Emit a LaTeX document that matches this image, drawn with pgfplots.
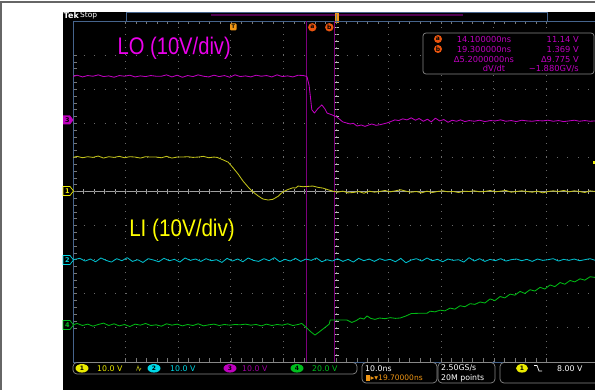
\documentclass[border=0pt]{standalone}
\usepackage{pgfplots}
\pgfplotsset{compat=1.18}
\usepackage{graphicx}
\usepackage{fontspec}
\setmainfont{DejaVu Sans}
\newfontfamily\arial{Liberation Sans}
\newcommand\fs[1]{\fontsize{#1}{#1}\selectfont}
\definecolor{frameblue}{RGB}{70,100,140}
\definecolor{gridgray}{RGB}{105,105,105}
\definecolor{tickgray}{RGB}{120,120,120}
\definecolor{centergray}{RGB}{160,160,160}
\definecolor{ytrace}{RGB}{195,195,25}
\definecolor{mtrace}{RGB}{190,0,190}
\definecolor{ctrace}{RGB}{0,190,205}
\definecolor{gtrace}{RGB}{0,185,20}
\definecolor{cursor}{RGB}{125,0,125}
\definecolor{meas}{RGB}{190,0,190}
\definecolor{curorange}{RGB}{235,85,15}
\definecolor{trigorange}{RGB}{240,150,20}
\definecolor{boxgray}{RGB}{135,135,135}
\definecolor{lomag}{RGB}{235,0,235}
\definecolor{liyel}{RGB}{255,255,0}
\definecolor{chyel}{RGB}{235,235,0}
\definecolor{chcyan}{RGB}{0,215,230}
\definecolor{chmag}{RGB}{190,0,190}
\definecolor{chgreen}{RGB}{0,190,30}
\definecolor{darkpurple}{RGB}{80,0,80}
\begin{document}
\begin{tikzpicture}[x=1pt,y=1pt]
\useasboundingbox (0,0) rectangle (595,390);
\clip (0,0) rectangle (595,390);
\fill[white] (0,0) rectangle (595,390);
\draw[black!60, line width=1.2pt] (0,388) -- (595,388);
\draw[black!60, line width=1.2pt] (1,0) -- (1,388);
\fill[black] (63,0) rectangle (595,378);
% top bar
\node[anchor=west, text=white, font=\fs{8}\bfseries, inner sep=0] at (63.5,374) {Tek};
\node[anchor=west, text=white, font=\fs{7.5}, inner sep=0] at (80,374) {Stop};
\draw[frameblue, line width=0.8pt] (126,369) -- (126,378) -- (547,378) -- (547,369);
\draw[darkpurple, line width=2pt] (211,375) -- (463,375);
\fill[trigorange] (334.5,367) rectangle (338.5,377);
\draw[black!50, line width=0.6pt] (336.5,368) -- (336.5,376);
% center cross
\draw[centergray, line width=0.7pt] (73,198.5) -- (599,198.5);
\foreach \i in {1,...,49} \draw[centergray, line width=0.6pt] ({73+\i*10.52},196.3) -- ++(0,4.4);
\foreach \i in {1,...,49} \draw[white!75!black, line width=0.7pt] (333.8,{28+\i*6.82}) -- ++(5,0);
\begin{axis}[
  at={(73pt,28pt)}, anchor=south west,
  width=526pt, height=341pt, scale only axis,
  xmin=-30.3, xmax=69.7, ymin=-5, ymax=5,
  axis line style={frameblue, line width=0.8pt},
  xtick={-20.3,-10.3,-0.3,9.7,19.7,29.7,39.7,49.7,59.7},
  ytick={-4,-3,-2,-1,0,1,2,3,4},
  xticklabels={}, yticklabels={},
  minor x tick num=4, minor y tick num=4,
  tick align=inside,
  major tick length=3.5pt, minor tick length=3.5pt,
  tick style={draw=tickgray, line width=0.6pt},
  grid=major,
  x grid style={gridgray, line width=1pt, dash pattern=on 1pt off 5.82pt},
  y grid style={gridgray, line width=1pt, dash pattern=on 1pt off 9.52pt},
  every axis plot/.append style={line width=0.85pt, line join=round, mark=none},
]
\addplot[cursor, line width=0.7pt] coordinates {(14.1,-5) (14.1,5)};
\addplot[cursor, line width=0.7pt] coordinates {(19.3,-5) (19.3,5)};
% CH2 cyan
\addplot[ctrace] coordinates {
(-30.3,-2.00)(-29,-1.96)(-28,-2.04)(-27,-1.98)(-26,-2.06)(-25,-1.95)(-24,-2.02)(-23,-2.07)(-22,-1.97)(-21,-2.03)
(-20,-1.94)(-19,-2.05)(-18,-2.00)(-17,-2.08)(-16,-1.97)(-15,-2.01)(-14,-2.06)(-13,-1.96)(-12,-2.03)(-11,-1.99)
(-10,-2.07)(-9,-1.95)(-8,-2.02)(-7,-1.98)(-6,-2.05)(-5,-1.97)(-4,-2.03)(-3,-2.00)(-2,-2.08)(-1,-1.96)
(0,-2.04)(1,-1.98)(2,-2.06)(3,-1.95)(4,-2.02)(5,-2.05)(6,-1.97)(7,-2.03)(8,-1.94)(9,-2.06)
(10,-1.99)(11,-2.04)(12,-1.96)(13,-2.05)(14,-1.98)(15,-2.02)(16,-1.95)(17,-2.06)(18,-2.00)(19,-2.04)
(20,-1.97)(21,-2.05)(22,-1.99)(23,-2.07)(24,-1.96)(25,-2.03)(26,-1.98)(27,-2.05)(28,-1.97)(29,-2.02)
(30,-1.99)(31,-2.06)(32,-1.96)(33,-2.09)(34,-2.01)(35,-1.97)(36,-2.04)(37,-1.95)(38,-2.03)(39,-1.99)
(40,-2.06)(41,-1.98)(42,-2.02)(43,-2.00)(44,-2.07)(45,-1.94)(46,-2.04)(47,-1.97)(48,-2.05)(49,-1.99)
(50,-2.03)(51,-1.97)(52,-2.04)(53,-2.00)(54,-1.98)(55,-2.03)(56,-1.99)(57,-2.05)(58,-1.98)(59,-2.02)
(60,-2.00)(61,-1.97)(62,-2.04)(63,-1.99)(64,-2.02)(65,-1.98)(66,-2.03)(67,-2.00)(68,-1.97)(69,-2.02)(69.7,-2.00)};
% CH4 green
\addplot[gtrace] coordinates {
(-30.3,-3.91)(-29.5,-3.87)(-28.5,-3.93)(-27.5,-3.89)(-26.5,-3.95)(-25.5,-3.90)(-24.5,-3.86)(-23.5,-3.93)(-22.5,-3.88)(-21.5,-3.94)
(-20.5,-3.90)(-19.5,-3.96)(-18.5,-3.89)(-17.5,-3.92)(-16.5,-3.87)(-15.5,-3.93)(-14.5,-3.91)(-13.5,-3.95)(-12.5,-3.88)(-11.5,-3.92)
(-10.5,-3.89)(-9.5,-3.94)(-8.5,-3.90)(-7.5,-3.93)(-6.5,-3.88)(-5.5,-3.94)(-4.5,-3.91)(-3.5,-3.89)(-2.5,-3.93)(-1.5,-3.90)
(-0.5,-3.92)(0.5,-3.90)(1.5,-3.91)(2.5,-3.89)(3.5,-3.92)(4.5,-3.90)(5.5,-3.94)(6.5,-3.89)(7.5,-3.93)(8.5,-3.90)
(9.5,-3.92)(10.5,-3.88)(11.5,-3.93)(12.5,-3.90)(13.2,-3.87)(14.0,-3.98)(14.8,-4.10)(15.7,-4.21)(16.5,-4.12)(17.5,-4.00)
(18.4,-3.89)(18.6,-3.77)(20.0,-3.77)(21.8,-3.77)(22.7,-3.84)(23.5,-3.79)(24.3,-3.71)(25.0,-3.74)(25.6,-3.65)(26.3,-3.72)
(27.1,-3.75)(28.0,-3.71)(29.0,-3.73)(30.0,-3.70)(31.0,-3.72)(31.9,-3.71)(33.0,-3.65)(34.0,-3.58)(35.7,-3.57)(37.0,-3.57)
(37.6,-3.51)(38.5,-3.53)(39.5,-3.48)(40.4,-3.50)(41.4,-3.42)(42.3,-3.45)(43.3,-3.35)(44.2,-3.38)(45.2,-3.29)(46.1,-3.31)
(47.1,-3.24)(48.0,-3.27)(49.0,-3.15)(49.9,-3.20)(50.9,-3.08)(51.8,-3.12)(52.8,-3.01)(53.7,-3.04)(54.7,-2.93)(55.6,-2.99)
(56.6,-2.88)(57.5,-2.92)(58.5,-2.81)(59.4,-2.86)(60.4,-2.74)(61.3,-2.79)(62.3,-2.67)(63.2,-2.72)(64.2,-2.61)(65.1,-2.65)
(66.1,-2.56)(67.0,-2.60)(68.0,-2.50)(69.0,-2.52)(69.7,-2.47)};
% CH3 magenta
\addplot[mtrace] coordinates {
(-30.3,3.37)(-29.5,3.41)(-28.5,3.36)(-27.5,3.40)(-26.5,3.38)(-25.5,3.42)(-24.5,3.37)(-23.5,3.39)(-22.5,3.35)(-21.5,3.40)
(-20.5,3.38)(-19.5,3.41)(-18.5,3.36)(-17.5,3.39)(-16.5,3.37)(-15.5,3.40)(-14.5,3.38)(-13.5,3.38)(-12.5,3.42)(-11.5,3.36)
(-10.5,3.41)(-9.5,3.35)(-8.5,3.40)(-7.5,3.37)(-6.5,3.42)(-5.5,3.38)(-4.5,3.36)(-3.5,3.41)(-2.5,3.37)(-1.5,3.40)
(-0.5,3.35)(0.5,3.42)(1.5,3.37)(2.5,3.39)(3.5,3.36)(4.5,3.41)(5.5,3.38)(6.5,3.40)(7.5,3.36)(8.5,3.42)
(9.5,3.37)(10.5,3.39)(11.5,3.36)(12.5,3.41)(13.5,3.40)(14.0,3.38)(14.2,3.36)(14.6,3.10)(15.1,2.40)(15.6,2.30)
(16.2,2.42)(17.0,2.54)(17.6,2.42)(18.0,2.30)(18.9,2.25)(19.9,2.18)(21.0,2.04)(22.4,1.98)(23.0,2.00)(23.7,1.92)
(24.5,1.95)(25.2,1.91)(26.5,1.98)(27.3,1.94)(28.1,1.96)(29.4,2.01)(30.1,2.05)(30.9,2.10)(31.6,2.08)(32.4,2.13)
(33.2,2.10)(34.0,2.16)(34.8,2.09)(35.5,2.14)(36.3,2.06)(37.1,2.12)(37.8,2.04)(38.6,2.15)(39.4,2.07)(40.2,2.11)
(41.0,2.03)(41.8,2.09)(42.6,2.06)(43.4,2.10)(44.2,2.05)(45.0,2.08)(46.0,2.06)(47.0,2.09)(48.0,2.05)(49.0,2.08)
(50.0,2.07)(51.0,2.10)(52.0,2.06)(53.0,2.08)(54.0,2.05)(55.0,2.09)(56.0,2.07)(57.0,2.06)(58.0,2.08)(59.0,2.07)
(60.0,2.09)(61.0,2.06)(62.0,2.08)(63.0,2.05)(64.0,2.07)(65.0,2.09)(66.0,2.06)(67.0,2.08)(68.0,2.06)(69.0,2.07)(69.7,2.07)};
% CH1 yellow
\addplot[ytrace] coordinates {
(-30.3,1.00)(-29.5,1.03)(-28.5,0.99)(-27.5,1.02)(-26.5,1.00)(-25.5,1.04)(-24.5,0.98)(-23.5,1.02)(-22.5,1.00)(-21.5,1.03)
(-20.5,0.99)(-19.5,1.02)(-18.5,1.01)(-17.5,0.98)(-16.5,1.02)(-15.5,1.01)(-14.5,1.01)(-13.5,0.99)(-12.5,1.03)(-11.5,0.98)
(-10.5,1.01)(-9.5,1.01)(-8.5,1.02)(-7.5,1.00)(-6.5,1.01)(-5.5,1.03)(-4.5,0.99)(-3.5,1.01)(-2.9,1.00)(-1.8,0.93)
(-0.8,0.86)(0.1,0.70)(1.1,0.51)(2.0,0.31)(3.0,0.13)(3.9,-0.01)(4.9,-0.13)(5.8,-0.22)(6.8,-0.25)(7.7,-0.23)
(8.7,-0.14)(9.6,-0.01)(10.6,0.06)(11.5,0.11)(12.0,0.10)(12.5,0.16)(13.4,0.14)(14.4,0.15)(15.3,0.16)(16.3,0.12)
(17.2,0.10)(18.2,0.05)(19.1,0.01)(20,-0.02)(21,0.01)(22,-0.04)(23,-0.03)(24,0.00)(25,-0.05)(26,0.01)
(27,-0.02)(28,0.00)(29,0.03)(30,-0.01)(31,0.02)(32,0.05)(33,0.01)(34,-0.02)(35,0.00)(36,-0.04)
(37,0.01)(38,-0.03)(39,0.00)(40,0.02)(41,-0.01)(42,0.00)(43,-0.03)(44,0.01)(45,0.00)(46,0.02)
(47,-0.01)(48,0.00)(49,0.03)(50,-0.01)(51,0.01)(52,0.03)(53,-0.02)(54,0.00)(55,0.02)(56,0.00)
(57,-0.02)(58,0.01)(59,-0.04)(60,0.00)(61,0.02)(62,0.00)(63,0.03)(64,-0.01)(65,0.02)(66,0.00)
(67,-0.03)(68,0.02)(69,0.00)(69.7,0.01)};
\end{axis}
% trigger level marker (right)
\fill[chyel] (593,226) rectangle (595,228.5);
% markers T, a, b
\fill[trigorange, rounded corners=1pt] (230,359.5) rectangle (236.5,366.5);
\node[text=black, font=\fs{5}\bfseries, inner sep=0] at (233.25,363) {T};
\fill[curorange] (312.3,362.7) circle (4.2);
\node[text=black, font=\fs{6}\bfseries, inner sep=0] at (312.3,362.9) {a};
\fill[curorange] (329.3,362.7) circle (4.2);
\node[text=black, font=\fs{6}\bfseries, inner sep=0] at (329.3,362.9) {b};
% channel tags at left
\fill[chmag] (63,265.5) -- (70,265.5) -- (73.5,270) -- (70,274.5) -- (63,274.5) -- cycle;
\node[text=black, font=\fs{6.5}\bfseries, inner sep=0] at (67.5,270) {3};
\draw[chyel, fill=black, line width=0.7pt] (63,194.5) -- (70,194.5) -- (73.5,199) -- (70,203.5) -- (63,203.5) -- cycle;
\node[text=chyel, font=\fs{6.5}\bfseries, inner sep=0] at (67.5,199) {1};
\draw[chcyan, fill=black, line width=0.7pt] (63,125.5) -- (70,125.5) -- (73.5,130) -- (70,134.5) -- (63,134.5) -- cycle;
\node[text=chcyan, font=\fs{6.5}\bfseries, inner sep=0] at (67.5,130) {2};
\draw[chgreen, fill=black, line width=0.7pt] (63,60.5) -- (70,60.5) -- (73.5,65) -- (70,69.5) -- (63,69.5) -- cycle;
\node[text=chgreen, font=\fs{6.5}\bfseries, inner sep=0] at (67.5,65) {4};
% big labels
\node[anchor=base east, text=lomag, inner sep=0] at (231,335) {\scalebox{0.84}[1]{\arial\fs{24}LO (10V/div)}};
\node[anchor=base east, text=liyel, inner sep=0] at (235,153) {\scalebox{0.86}[1]{\arial\fs{24}LI (10V/div)}};
% measurement box
\draw[boxgray, fill=black, rounded corners=3pt, line width=0.7pt] (423,316) rectangle (594,357);
\fill[curorange] (438,351) circle (4);
\node[text=black, font=\fs{6}\bfseries, inner sep=0] at (438,351.2) {a};
\fill[curorange] (438,341) circle (4);
\node[text=black, font=\fs{6}\bfseries, inner sep=0] at (438,341.2) {b};
\begin{scope}[every node/.style={text=meas, font=\fs{8.3}, inner sep=0}]
\node at (484,351) {14.100000ns};
\node at (484,341) {19.300000ns};
\node at (484,331) {Δ5.2000000ns};
\node at (494,321) {dV/dt};
\node[anchor=east] at (579,351) {11.14 V};
\node[anchor=east] at (579,341) {1.369 V};
\node[anchor=east] at (579,331) {Δ9.775 V};
\node[anchor=east] at (579,321) {−1.880GV/s};
\end{scope}
% bottom status bar
\draw[boxgray, rounded corners=4pt, line width=0.7pt] (73,16) rectangle (357,27.5);
\fill[chyel] (82,21.7) ellipse (6.5 and 4.3);
\node[text=black, font=\fs{6}\bfseries, inner sep=0] at (82,21.7) {1};
\node[anchor=west, text=chyel, font=\fs{7.8}, inner sep=0] at (97,21.7) {10.0 V};
\draw[ytrace!80!black, line width=0.7pt] (136.5,19.5) -- (138,24) -- (139.5,19.5) -- (141,22);
\fill[chcyan] (154,21.7) ellipse (6.5 and 4.3);
\node[text=black, font=\fs{6}\bfseries, inner sep=0] at (154,21.7) {2};
\node[anchor=west, text=chcyan, font=\fs{7.8}, inner sep=0] at (170,21.7) {10.0 V};
\fill[chmag] (230,21.7) ellipse (6.5 and 4.3);
\node[text=black, font=\fs{6}\bfseries, inner sep=0] at (230,21.7) {3};
\node[anchor=west, text=chmag!85!black, font=\fs{7.8}, inner sep=0] at (242,21.7) {10.0 V};
\fill[chgreen] (297,21.7) ellipse (6.5 and 4.3);
\node[text=black, font=\fs{6}\bfseries, inner sep=0] at (297,21.7) {4};
\node[anchor=west, text=chgreen, font=\fs{7.8}, inner sep=0] at (312,21.7) {20.0 V};
\draw[boxgray, rounded corners=4pt, line width=0.7pt] (362,7) rectangle (437,27.5);
\node[anchor=west, text=white, font=\fs{7.8}, inner sep=0] at (365,21.7) {10.0ns};
\fill[trigorange] (365.5,9) rectangle (370,15);
\node[anchor=west, text=trigorange, font=\fs{7.5}, inner sep=0] at (370.5,12) {▸▾19.70000ns};
\draw[boxgray, rounded corners=4pt, line width=0.7pt] (438,7) rectangle (495,27.5);
\node[anchor=west, text=white, font=\fs{7.8}, inner sep=0] at (441,21.7) {2.50GS/s};
\node[anchor=west, text=white, font=\fs{7.8}, inner sep=0] at (441,12) {20M points};
\draw[boxgray, rounded corners=4pt, line width=0.7pt] (500,7) rectangle (605,27.5);
\fill[chyel] (522,21.7) ellipse (6 and 4.3);
\node[text=black, font=\fs{6}\bfseries, inner sep=0] at (522,21.7) {1};
\draw[white, line width=0.7pt] (534,24.5) -- (537,24.5) -- (539,19) -- (542,19);
\node[anchor=west, text=white, font=\fs{7.8}, inner sep=0] at (557,21.7) {8.00 V};
\end{tikzpicture}
\end{document}
